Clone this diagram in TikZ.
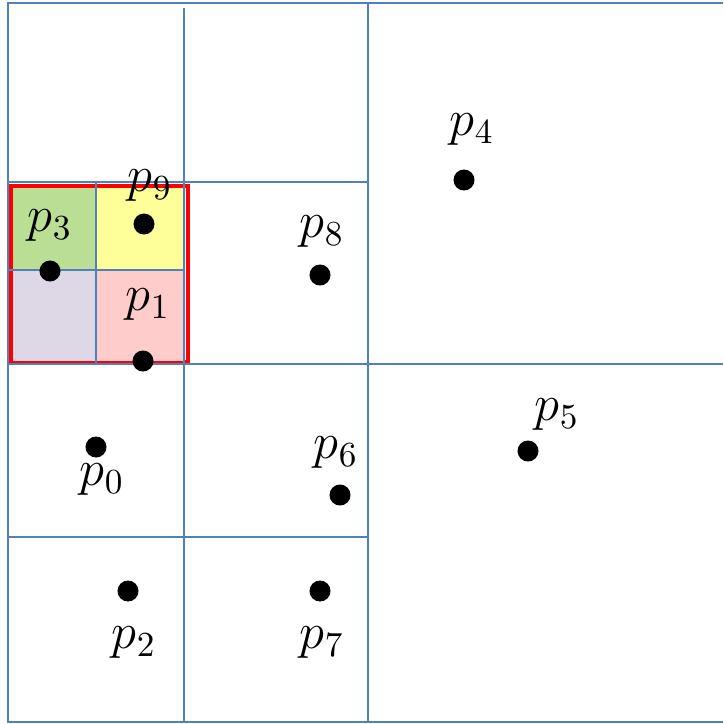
\documentclass[tikz,border=0pt]{standalone}
\usepackage{amssymb}
\usepackage{tikz}

\definecolor{gridblue}{RGB}{79,129,189}
\definecolor{cellgreen}{RGB}{185,222,148}
\definecolor{cellyellow}{RGB}{255,255,153}
\definecolor{celllilac}{RGB}{221,215,230}
\definecolor{cellpink}{RGB}{255,204,204}

\tikzset{
  gridline/.style={draw=gridblue, line width=0.7pt},
  pt/.style={circle, fill=black, inner sep=0pt, minimum size=0.21cm},
  lbl/.style={font=\Large}
}

\begin{document}
\begin{tikzpicture}[x=0.01cm, y=-0.01cm]

    \useasboundingbox (0,0) rectangle (723,724);

    % --- vurgulanan dörtlü: kırmızı çerçeve ve renkli hücreler ---
    \draw[red, line width=1.3pt] (11,186) rectangle (188,362);
    \fill[cellgreen]  (13,188) rectangle (96,270);
    \fill[cellyellow] (96,188) rectangle (184,270);
    \fill[celllilac]  (13,270) rectangle (96,361);
    \fill[cellpink]   (96,270) rectangle (184,361);

    % --- ızgara çizgileri ---
    \draw[gridline] (723,3) -- (8,3) -- (8,722) -- (723,722);
    \draw[gridline] (368,3) -- (368,722);
    \draw[gridline] (184,8) -- (184,722);
    \draw[gridline] (8,364) -- (723,364);
    \draw[gridline] (8,182) -- (368,182);
    \draw[gridline] (8,537) -- (368,537);
    \draw[gridline] (96,182) -- (96,364);
    \draw[gridline] (8,270) -- (184,270);

    % --- noktalar ---
    \node[pt] (p0) at (96,447) {};
    \node[pt] (p1) at (143,361) {};
    \node[pt] (p2) at (128,591) {};
    \node[pt] (p3) at (50,271) {};
    \node[pt] (p4) at (464,180) {};
    \node[pt] (p5) at (528,451) {};
    \node[pt] (p6) at (340,495) {};
    \node[pt] (p7) at (320,591) {};
    \node[pt] (p8) at (320,275) {};
    \node[pt] (p9) at (144,224) {};

    % --- etiketler ---
    \node[lbl] (l0) at (102,480) {$p_0$};
    \node[lbl] (l1) at (148,305) {$p_1$};
    \node[lbl] (l2) at (134,643) {$p_2$};
    \node[lbl] (l3) at (50,226) {$p_3$};
    \node[lbl] (l4) at (472,130) {$p_4$};
    \node[lbl] (l5) at (557,415) {$p_5$};
    \node[lbl] (l6) at (336,453) {$p_6$};
    \node[lbl] (l7) at (322,643) {$p_7$};
    \node[lbl] (l8) at (322,232) {$p_8$};
    \node[lbl] (l9) at (150,186) {$p_9$};

\end{tikzpicture}
\end{document}
